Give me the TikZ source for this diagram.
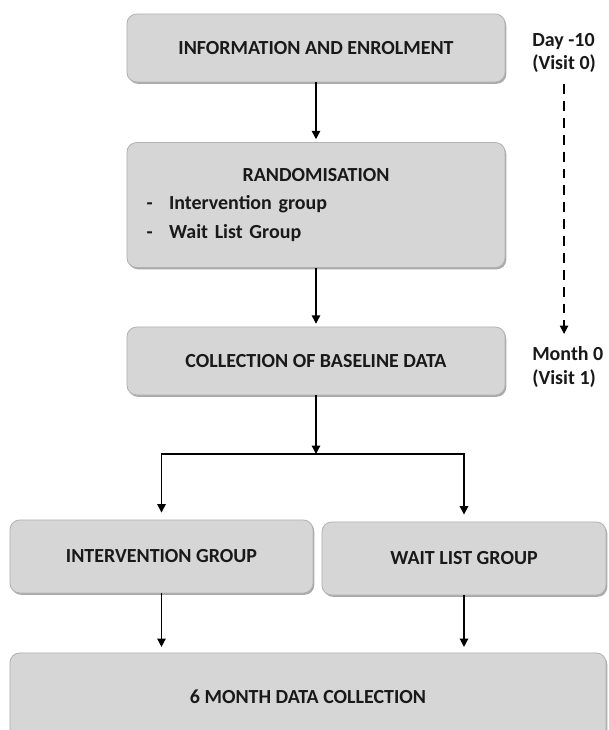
\documentclass[tikz,border=0pt]{standalone}
\usepackage{fontspec}
\setmainfont{Carlito}
\usetikzlibrary{arrows.meta,shadows}

\begin{document}
\begin{tikzpicture}[x=0.025cm,y=-0.025cm,
    every node/.style={font=\fontsize{14.2}{17}\selectfont\bfseries,text=black!90},
    box/.style={draw=gray!60,fill=gray!32,rounded corners=7pt,line width=0.6pt,
      drop shadow={shadow xshift=0.9pt,shadow yshift=-1.3pt,fill=gray!85,opacity=0.8}},
    side/.style={anchor=west,align=left,inner sep=0pt,
      font=\fontsize{14.2}{16.5}\selectfont\bfseries},
    arr/.style={line width=1pt,-{Triangle[width=6pt,length=6pt]},shorten >=2pt}]
      \useasboundingbox (0,0) rectangle (608,730) ;
      % main column
      \node[box,minimum width=9.45cm,minimum height=1.7cm] (info) at (316,48)
        {INFORMATION AND ENROLMENT} ;
      \node[box,minimum width=9.45cm,minimum height=3.125cm,inner xsep=13.5pt,
        text width=241pt,font=\fontsize{14.2}{20}\selectfont\bfseries] (rand) at (316,205)
        {\centering RANDOMISATION\par\raggedright
         \makebox[16pt][l]{-}Intervention group\par
         \makebox[16pt][l]{-}Wait List Group} ;
      \node[box,minimum width=9.45cm,minimum height=1.7cm] (base) at (316,361)
        {COLLECTION OF BASELINE DATA} ;
      \coordinate (split) at (316,454) ;
      \node[box,minimum width=7.575cm,minimum height=1.825cm] (inter) at (161.5,556.5)
        {INTERVENTION GROUP} ;
      \node[box,minimum width=7.1cm,minimum height=1.825cm] (wait) at (464,558.5)
        {WAIT LIST GROUP} ;
      \node[box,minimum width=14.9cm,minimum height=2.2cm] (six) at (308,697)
        {6 MONTH DATA COLLECTION} ;
      % time line
      \node[side] (day) at (532,53) {Day -10\\(Visit 0)} ;
      \node[side] (month) at (532,367) {Month 0\\(Visit 1)} ;
      \draw[arr,dash pattern=on 7pt off 5pt,shorten <=8pt,shorten >=9pt] %
      (day.south) -- (day.south |- month.north) ;
      \draw[arr] (info.south) -- (rand.north) ;
      \draw[arr] (rand.south) -- (base.north) ;
      \draw[arr,shorten >=0pt] (base.south) -- (split) ;
      \draw[arr,shorten >=5pt] (split) -| (inter.north) ;
      \draw[arr,shorten >=5pt] (split) -| (wait.north) ;
      \draw[arr,shorten >=4pt] (inter.south) -- (inter.south |- six.north) ;
      \draw[arr,shorten >=4pt] (wait.south) -- (wait.south |- six.north) ;
    \end{tikzpicture}
\end{document}
